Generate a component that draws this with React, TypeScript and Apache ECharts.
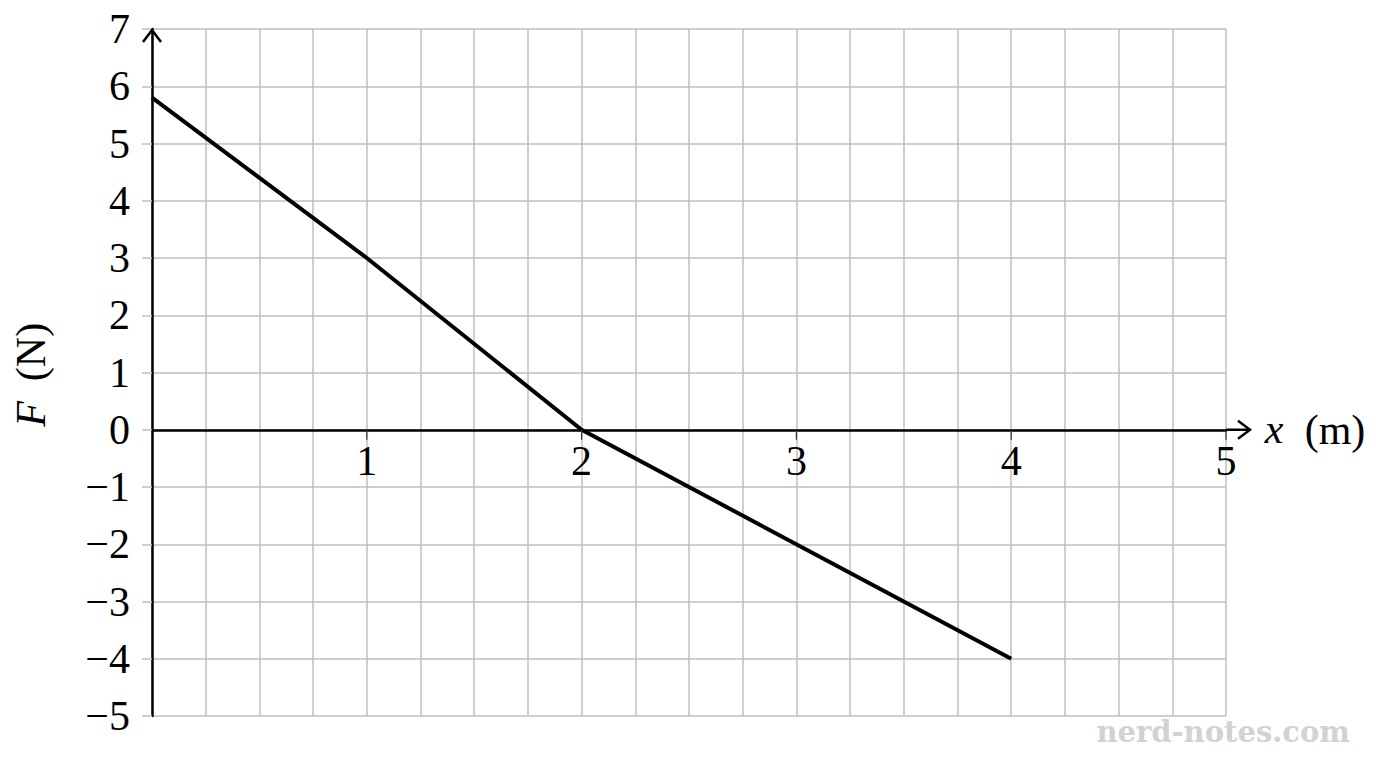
import React, { useRef, useEffect } from 'react';
import * as echarts from 'echarts';

// F(x) piecewise-linear force curve
const positions = [0, 1, 2, 4];
const forces = [5.8, 3, 0, -4];

const xMin = 0;
const xMax = 5;
const yMin = -5;
const yMax = 7;

const serif = 'Liberation Serif';

const fmtY = (v: number) => (v < 0 ? '\u2212' + Math.abs(v) : String(v));

const App: React.FC = () => {
  const chartRef = useRef<HTMLDivElement>(null);

  useEffect(() => {
    if (!chartRef.current) return;
    const chart = echarts.init(chartRef.current, undefined, { renderer: 'svg' });

    const gridColor = '#bfbfbf';
    const plotH = 687;

    const option: echarts.EChartsOption = {
      animation: false,
      backgroundColor: '#ffffff',
      grid: { left: 152, right: 150, top: 29, bottom: 52, containLabel: false },
      xAxis: {
        type: 'value',
        min: xMin,
        max: xMax,
        interval: 1,
        axisLine: { show: true, onZero: true, lineStyle: { color: '#000', width: 2.5 } },
        axisTick: { show: false },
        axisLabel: {
          // labels sit just under the y = 0 line
          margin: -Math.round((plotH * (0 - yMin)) / (yMax - yMin)) + 10,
          fontFamily: serif,
          fontSize: 42,
          color: '#000',
          showMinLabel: false,
          formatter: (v: number) => (v === 0 ? '' : String(v)),
        },
        splitLine: { show: true, lineStyle: { color: gridColor, width: 1.5 } },
        minorTick: { show: false, splitNumber: 4 },
        minorSplitLine: { show: true, lineStyle: { color: gridColor, width: 1.5 } },
      },
      yAxis: {
        type: 'value',
        min: yMin,
        max: yMax,
        interval: 1,
        axisLine: { show: true, onZero: false, lineStyle: { color: '#000', width: 2.5 } },
        axisTick: { show: true, inside: false, length: 10, lineStyle: { color: gridColor, width: 1.5 } },
        axisLabel: {
          margin: 22,
          fontFamily: serif,
          fontSize: 42,
          color: '#000',
          formatter: fmtY,
        },
        splitLine: { show: true, lineStyle: { color: gridColor, width: 1.5 } },
      },
      series: [
        {
          type: 'line',
          data: positions.map((x, i) => [x, forces[i]]),
          symbol: 'none',
          lineStyle: { color: '#000', width: 4 },
          z: 5,
        },
      ],
    };

    chart.setOption(option);

    const origin = chart.convertToPixel({ gridIndex: 0 }, [xMin, 0]) as number[];
    const xEnd = chart.convertToPixel({ gridIndex: 0 }, [xMax, 0]) as number[];
    const yTop = chart.convertToPixel({ gridIndex: 0 }, [xMin, yMax]) as number[];
    const ax = xEnd[0] + 24;
    const ay = origin[1];

    // small dark ticks under the x axis at whole metres
    const ticks = [1, 2, 3, 4, 5].map((v) => {
      const p = chart.convertToPixel({ gridIndex: 0 }, [v, 0]) as number[];
      return {
        type: 'line',
        shape: { x1: p[0], y1: ay, x2: p[0], y2: ay + 10 },
        style: { stroke: '#333', lineWidth: 1.2 },
        z: 9,
      };
    });

    const textStyle = { fontFamily: serif, fontSize: 42, fill: '#000', verticalAlign: 'middle', align: 'center' };

    chart.setOption({
      graphic: [
        ...ticks,
        {
          type: 'line',
          shape: { x1: xEnd[0], y1: ay, x2: ax, y2: ay },
          style: { stroke: '#000', lineWidth: 2.5 },
          z: 10,
        },
        {
          type: 'polyline',
          shape: { points: [[ax - 12, ay - 9], [ax, ay], [ax - 12, ay + 9]] },
          style: { stroke: '#000', lineWidth: 2.5, fill: 'none' },
          z: 10,
        },
        {
          type: 'polyline',
          shape: { points: [[yTop[0] - 9, yTop[1] + 13], [yTop[0], yTop[1] + 1], [yTop[0] + 9, yTop[1] + 13]] },
          style: { stroke: '#000', lineWidth: 2.5, fill: 'none' },
          z: 10,
        },
        {
          type: 'text',
          x: 1274,
          y: ay - 1,
          style: { ...textStyle, text: 'x', fontStyle: 'italic' },
          z: 10,
        },
        {
          type: 'text',
          x: 1335,
          y: ay,
          style: { ...textStyle, text: '(m)' },
          z: 10,
        },
        {
          type: 'text',
          x: 31,
          y: 414,
          rotation: Math.PI / 2,
          style: { ...textStyle, text: 'F', fontStyle: 'italic' },
          z: 10,
        },
        {
          type: 'text',
          x: 31,
          y: 352,
          rotation: Math.PI / 2,
          style: { ...textStyle, text: '(N)' },
          z: 10,
        },
        {
          type: 'text',
          x: 1350,
          y: 732,
          style: {
            text: 'nerd-notes.com',
            fontFamily: 'DejaVu Serif',
            fontWeight: 'bold',
            fontSize: 29,
            fill: '#d2d2d2',
            align: 'right',
            verticalAlign: 'middle',
          },
          z: 10,
        },
      ],
    });

    const handleResize = () => chart.resize();
    window.addEventListener('resize', handleResize);
    return () => {
      window.removeEventListener('resize', handleResize);
      chart.dispose();
    };
  }, []);

  return (
    <div
      ref={chartRef}
      style={{ position: 'fixed', left: 0, top: 0, width: '1376px', height: '768px', background: '#fff' }}
    />
  );
};

export default App;
